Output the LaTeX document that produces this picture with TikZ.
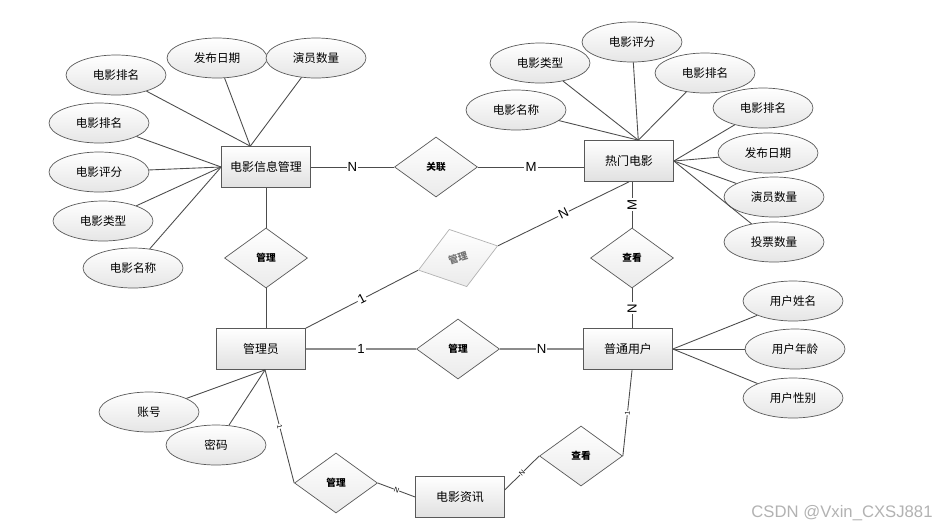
\documentclass[tikz,border=0pt]{standalone}
\usepackage{fontspec}
\setmainfont{Liberation Sans}
\newfontfamily\cjk{Noto Sans CJK SC}
\usetikzlibrary{shapes.geometric}

\begin{document}
\begin{tikzpicture}[x=0.02cm,y=-0.02cm,
	entity/.style={draw=black!65,top color=white,bottom color=black!12,minimum width=1.78cm,minimum height=0.82cm,font=\cjk\fontsize{6.8}{8}\selectfont},
	attr/.style={ellipse,draw=black!65,top color=white,bottom color=black!10,minimum width=2cm,minimum height=0.8cm,inner sep=0pt,font=\cjk\fontsize{6.6}{8}\selectfont},
	rel/.style={diamond,draw=black!65,top color=white,bottom color=black!8,minimum width=1.66cm,minimum height=1.2cm,inner sep=0pt,font=\cjk\bfseries\fontsize{5.5}{6}\selectfont},
	link/.style={draw=black!70,line width=0.5pt},
	card/.style={fill=white,inner sep=0.6pt,font=\fontsize{7.5}{8}\selectfont},
	tick/.style={fill=white,inner sep=0.2pt,font=\fontsize{4}{4}\selectfont,sloped}]
	\useasboundingbox (0,0) rectangle (935,528);
	
	\node[entity] (info)  at (266,167) {电影信息管理};
	\node[entity] (hot)   at (629,161) {热门电影};
	\node[entity] (admin) at (261,349) {管理员};
	\node[entity] (user)  at (628,349) {普通用户};
	\node[entity] (news)  at (460,497) {电影资讯};
	
	\node[rel] (relate) at (436,167) {关联};
	\node[rel] (mgrA)   at (266,258) {管理};
	\node[rel,rotate=17,draw=black!30,text=black!55] (mgrB) at (458,258) {管理};
	\node[rel] (mgrC)   at (458,349) {管理};
	\node[rel] (viewA)  at (632,258) {查看};
	\node[rel] (mgrD)   at (336,483) {管理};
	\node[rel] (viewB)  at (581,456) {查看};
	
	\node[attr] (iRank)  at (116,75)  {电影排名};
	\node[attr] (iDate)  at (217,58)  {发布日期};
	\node[attr] (iActor) at (316,58)  {演员数量};
	\node[attr] (iRank2) at (99,123)  {电影排名};
	\node[attr] (iScore) at (99,172)  {电影评分};
	\node[attr] (iType)  at (103,221) {电影类型};
	\node[attr] (iName)  at (133,268) {电影名称};
	
	\node[attr] (hType)  at (540,63)  {电影类型};
	\node[attr] (hScore) at (632,42)  {电影评分};
	\node[attr] (hRank)  at (705,73)  {电影排名};
	\node[attr] (hName)  at (516,110) {电影名称};
	\node[attr] (hRank2) at (763,108) {电影排名};
	\node[attr] (hDate)  at (768,153) {发布日期};
	\node[attr] (hActor) at (774,197) {演员数量};
	\node[attr] (hVote)  at (774,242) {投票数量};
	
	\node[attr] (uName) at (793,301) {用户姓名};
	\node[attr] (uAge)  at (795,349) {用户年龄};
	\node[attr] (uSex)  at (793,398) {用户性别};
	
	\node[attr] (acct) at (149,412) {账号};
	\node[attr] (pwd)  at (216,445) {密码};
	
	\node[text=black!30,font=\fontsize{9.5}{11}\selectfont] (mark) at (842,513) {CSDN @Vxin\_CXSJ881};
	
	\draw[link] (iRank)--(info.127);		%attributes--info
	\draw[link] (iDate)--(info.127);
	\draw[link] (iActor)--(info.127);
	\draw[link] (iRank2)--(info.west);
	\draw[link] (iScore)--(info.west);
	\draw[link] (iType)--(info.west);
	\draw[link] (iName)--(info.west);
	%
	\draw[link] (hName)--(hot.66);			%attributes--hot
	\draw[link] (hType)--(hot.66);
	\draw[link] (hScore)--(hot.66);
	\draw[link] (hRank)--(hot.66);
	\draw[link] (hRank2)--(hot.east);
	\draw[link] (hDate)--(hot.east);
	\draw[link] (hActor)--(hot.east);
	\draw[link] (hVote)--(hot.east);
	%
	\draw[link] (uName)--(user.east);		%attributes--user
	\draw[link] (uAge)--(user.east);
	\draw[link] (uSex)--(user.east);
	\draw[link] (acct)--(admin.-79);		%attributes--admin
	\draw[link] (pwd)--(admin.-79);
	
	\draw[link] (info.east)--(relate.west) node[card,midway]{N};					%info--relate
	\draw[link] (relate.east)--(relate.east -| hot.west) node[card,midway]{M};		%relate--hot
	\draw[link] (info.south)--(mgrA.north);											%info--mgrA
	\draw[link] (mgrA.south)--(mgrA.south |- admin.north);							%mgrA--admin
	\draw[link] (admin.north east)--(mgrB.west) node[card,midway,sloped]{1};		%admin--mgrB
	\draw[link] (mgrB.east)--(hot.south) node[card,midway,sloped]{N};				%mgrB--hot
	\draw[link] (viewA.north |- hot.south)--(viewA.north) node[card,midway,rotate=90]{M};	%hot--viewA
	\draw[link] (viewA.south)--(viewA.south |- user.north) node[card,midway,rotate=90]{N};	%viewA--user
	\draw[link,line width=0.9pt,black!45] (admin.east)--(mgrC.west) node[card,midway,text=black]{1};	%admin--mgrC
	\draw[link,line width=0.9pt,black!45] (mgrC.east)--(user.west) node[card,midway,text=black]{N};		%mgrC--user
	\draw[link] (admin.-79)--(mgrD.west) node[tick,midway]{1};						%admin--mgrD
	\draw[link] (mgrD.east)--(news.west) node[tick,midway]{N};						%mgrD--news
	\draw[link] (news.9)--(viewB.west) node[tick,midway]{N};						%news--viewB
	\draw[link] (viewB.east)--(user.-79) node[tick,midway]{1};						%viewB--user
\end{tikzpicture}
\end{document}
